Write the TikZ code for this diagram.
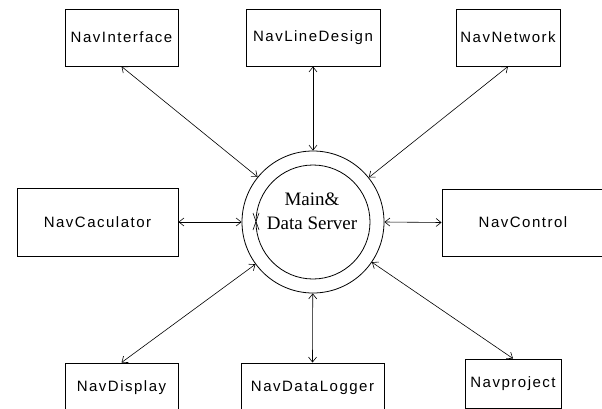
\documentclass[tikz,border=0pt]{standalone}
\usepackage{fontspec}
\setmainfont{Liberation Serif}
\newfontfamily\navfont[LetterSpace=10]{Liberation Sans}
\usetikzlibrary{arrows.meta}

\begin{document}
\begin{tikzpicture}[x=1pt, y=-1pt,
    navbox/.style={rectangle, draw, line width=0.9pt, inner sep=0pt,
                   align=center, font=\navfont\fontsize{15}{18}\selectfont},
    ring/.style={circle, draw, line width=0.8pt, inner sep=0pt},
    arr/.style={{Straight Barb[length=5pt,width=8pt]}-{Straight Barb[length=5pt,width=8pt]}, line width=0.6pt},
    srvlbl/.style={align=center, font=\fontsize{19}{24}\selectfont},
  ]

  \useasboundingbox (0,0) rectangle (602,409);
  \clip (0,0) rectangle (602,409);

  % Centre: Main & Data Server
  \node[ring, minimum size=142pt] (srv) at (313, 222) {};
  \node[ring, minimum size=114pt] (srvin) at (313, 222) {};
  \node[srvlbl] (srvtxt) at (312, 211) {Main\&\\Data Server};
  \draw[line width=0.6pt] (253, 213) -- (259, 230) (259, 213) -- (253, 230);

  % Top row
  \node[navbox, minimum width=113pt, minimum height=57pt] (iface) at (121.5, 37.5) {NavInterface};
  \node[navbox, minimum width=134pt, minimum height=57pt] (line) at (313, 37.5) {NavLineDesign};
  \node[navbox, minimum width=104pt, minimum height=57pt] (net) at (508, 37.5) {NavNetwork};

  % Middle row
  \node[navbox, minimum width=161pt, minimum height=68pt] (calc) at (97.5, 222) {NavCaculator};
  \node[navbox, minimum width=162pt, minimum height=67pt] (ctrl) at (523, 222.5) {NavControl};

  % Bottom row
  \node[navbox, minimum width=113pt, minimum height=49pt] (disp) at (121.5, 387.5) {NavDisplay};
  \node[navbox, minimum width=143pt, minimum height=49pt] (log) at (312.5, 387.5) {NavDataLogger};
  \node[navbox, minimum width=96pt, minimum height=49pt] (proj) at (513, 383.5) {Navproject};

  % Edges
  \draw[arr] (iface.south) -- (srv);
  \draw[arr] (line.south) -- (srv);
  \draw[arr] (net.south) -- (srv);
  \draw[arr] (calc.east) -- (srv.west);
  \draw[arr] (ctrl.west) -- (srv.east);
  \draw[arr] (disp.north) -- (srv);
  \draw[arr] (log.north) -- (srv);
  \draw[arr] (proj.north) -- (srv);

\end{tikzpicture}
\end{document}
